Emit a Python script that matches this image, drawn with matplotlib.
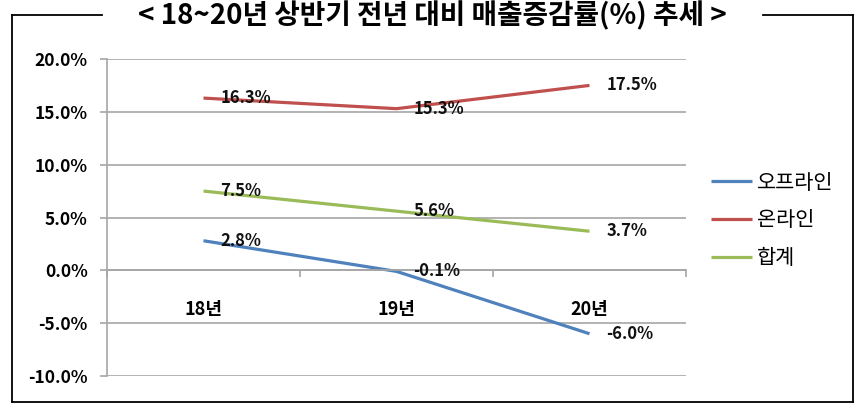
import matplotlib
matplotlib.use('Agg')
import matplotlib.pyplot as plt
from matplotlib.lines import Line2D

plt.rcParams['font.family'] = ['Noto Sans CJK KR', 'DejaVu Sans']

years = ['18년', '19년', '20년']
offline = [2.8, -0.1, -6.0]
online = [16.3, 15.3, 17.5]
total = [7.5, 5.6, 3.7]
series_names = ['오프라인', '온라인', '합계']
colors = ['#4F81BD', '#C0504D', '#9BBB59']
y_ticks = [-10, -5, 0, 5, 10, 15, 20]
title = '< 18~20년 상반기 전년 대비 매출증감률(%) 추세 >'

W, H = 865, 412
fig = plt.figure(figsize=(W / 100, H / 100), dpi=100)


def fx(px):
    return px / W


def fy(py):
    return 1 - py / H


# plot area
ax = fig.add_axes([fx(107), fy(376), fx(686) - fx(107), fy(59) - fy(376)])
x = list(range(len(years)))
for vals, name, c in zip([offline, online, total], series_names, colors):
    ax.plot(x, vals, color=c, lw=2.3, label=name, solid_capstyle='butt')
    for xi, v in zip(x, vals):
        ax.annotate(f'{v:.1f}%', (xi, v), xytext=(12, 0), textcoords='offset points',
                    va='center', ha='left', fontsize=12, fontweight='bold', color='#111111')

ax.set_xlim(-0.5, len(years) - 0.5)
ax.set_ylim(-10, 20)
ax.set_yticks(y_ticks)
ax.set_yticklabels([f'{t:.1f}%' for t in y_ticks], fontsize=12.5, fontweight='bold')
ax.yaxis.grid(True, color='#A6A6A6', lw=1.2)
ax.set_axisbelow(True)
ax.tick_params(axis='y', length=5, width=1.2, color='#A6A6A6', pad=9)

for s in ['top', 'right']:
    ax.spines[s].set_visible(False)
ax.spines['left'].set_color('#A6A6A6')
ax.spines['left'].set_linewidth(1.2)
ax.spines['bottom'].set_position(('data', 0))
ax.spines['bottom'].set_color('#A6A6A6')
ax.spines['bottom'].set_linewidth(1.2)

ax.set_xticks(x)
ax.set_xticklabels(years, fontsize=13, fontweight='bold')
ax.set_xticks([-0.5, 0.5, 1.5, 2.5], minor=True)
ax.tick_params(axis='x', which='major', length=0, pad=21)
ax.tick_params(axis='x', which='minor', length=5, width=1.2, color='#A6A6A6')

fig.legend(loc='upper left', bbox_to_anchor=(fx(692), fy(153)), frameon=False,
           prop={'size': 15}, handlelength=2.0, handletextpad=0.2, labelspacing=0.75)

# outer frame with title breaking the top line
frame = dict(color='black', lw=1.3, transform=fig.transFigure)
fig.add_artist(Line2D([fx(12), fx(102)], [fy(15), fy(15)], **frame))
fig.add_artist(Line2D([fx(763), fx(853)], [fy(15), fy(15)], **frame))
fig.add_artist(Line2D([fx(12), fx(12)], [fy(15), fy(402)], **frame))
fig.add_artist(Line2D([fx(853), fx(853)], [fy(15), fy(402)], **frame))
fig.add_artist(Line2D([fx(12), fx(853)], [fy(402), fy(402)], **frame))
fig.text(fx(432), fy(16), title, ha='center', va='center', fontsize=20, fontweight='bold')

fig.savefig('out.png', dpi=100)
